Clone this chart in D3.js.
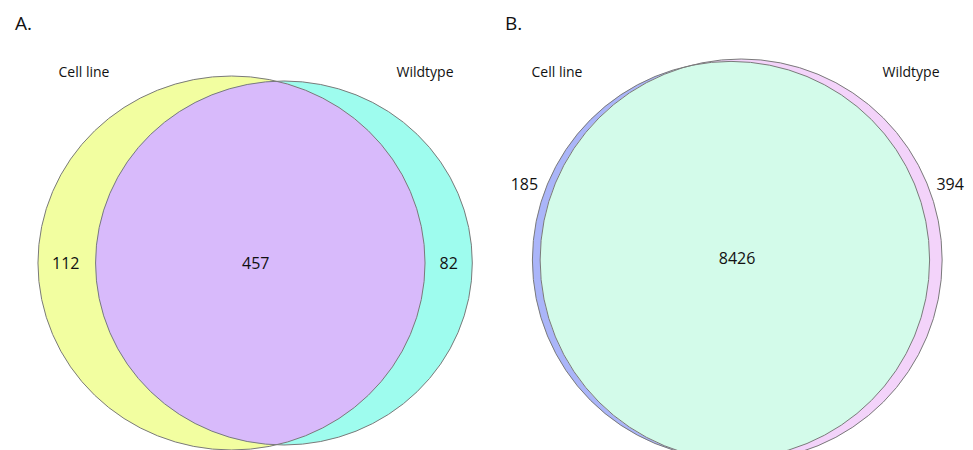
<!DOCTYPE html>
<html>
<head>
<meta charset="utf-8">
<script src="https://cdn.jsdelivr.net/npm/d3@7"></script>
<style>
	body { margin: 0; background: #fff; }
	svg text { font-family: "Open Sans", "Noto Sans", sans-serif; fill: #111; }
</style>
</head>
<body>
<svg id="venn"></svg>
<script>
const panelTitles = ["A.", "B."];
const setLabels = ["Cell line", "Wildtype"];
const onlyCellLine = [112, 185];
const shared = [457, 8426];
const onlyWildtype = [82, 394];

const leftColors = ["#f2fea0", "#aab5f9"];
const rightColors = ["#9efcee", "#f3d3fa"];
const bothColors = ["#d8bafb", "#d3fbea"];

const width = 973, height = 450;

// where each panel sits on the page
const layout = [
	{x0: 0, cx: 231.5, cy: 263, rMax: 187, aspect: 1.035, inside: true},
	{x0: 490, cx: 731, cy: 260, rMax: 201, aspect: 1.0, inside: false}
];

const svg = d3.select("#venn")
	.attr("width", width)
	.attr("height", height);

const defs = svg.append("defs");

function lensArea(r1, r2, d) {
	if (d >= r1 + r2) return 0;
	if (d <= Math.abs(r1 - r2)) return Math.PI * Math.min(r1, r2) ** 2;
	const a1 = Math.acos((d * d + r1 * r1 - r2 * r2) / (2 * d * r1));
	const a2 = Math.acos((d * d + r2 * r2 - r1 * r1) / (2 * d * r2));
	const k = Math.sqrt((-d + r1 + r2) * (d + r1 - r2) * (d - r1 + r2) * (d + r1 + r2));
	return r1 * r1 * a1 + r2 * r2 * a2 - 0.5 * k;
}

// find center distance so the lens has the wanted area
function solveDistance(r1, r2, target) {
	let lo = Math.abs(r1 - r2), hi = r1 + r2;
	for (let i = 0; i < 100; i++) {
		const mid = (lo + hi) / 2;
		if (lensArea(r1, r2, mid) > target) lo = mid; else hi = mid;
	}
	return (lo + hi) / 2;
}

panelTitles.forEach((title, i) => {
	const L = layout[i];
	const totalLeft = onlyCellLine[i] + shared[i];
	const totalRight = onlyWildtype[i] + shared[i];

	const r = d3.scaleSqrt()
		.domain([0, Math.max(totalLeft, totalRight)])
		.range([0, L.rMax]);

	const r1 = r(totalLeft), r2 = r(totalRight);
	const pxPerUnit = Math.PI * r1 * r1 / totalLeft;
	const d = solveDistance(r1, r2, shared[i] * pxPerUnit) * L.aspect;

	const c1 = {x: L.cx, y: L.cy, rx: r1 * L.aspect, ry: r1};
	const c2 = {x: L.cx + d, y: L.cy, rx: r2 * L.aspect, ry: r2};

	const g = svg.append("g");

	defs.append("clipPath")
		.attr("id", "clip" + i)
		.append("ellipse")
		.attr("cx", c1.x).attr("cy", c1.y)
		.attr("rx", c1.rx).attr("ry", c1.ry);

	g.append("ellipse")
		.attr("cx", c1.x).attr("cy", c1.y)
		.attr("rx", c1.rx).attr("ry", c1.ry)
		.attr("fill", leftColors[i]);

	g.append("ellipse")
		.attr("cx", c2.x).attr("cy", c2.y)
		.attr("rx", c2.rx).attr("ry", c2.ry)
		.attr("fill", rightColors[i]);

	g.append("ellipse")
		.attr("cx", c2.x).attr("cy", c2.y)
		.attr("rx", c2.rx).attr("ry", c2.ry)
		.attr("clip-path", `url(#clip${i})`)
		.attr("fill", bothColors[i]);

	g.selectAll("ellipse.outline")
		.data([c1, c2])
		.enter().append("ellipse")
		.attr("class", "outline")
		.attr("cx", c => c.x).attr("cy", c => c.y)
		.attr("rx", c => c.rx).attr("ry", c => c.ry)
		.attr("fill", "none")
		.attr("stroke", "#7a7a7a")
		.attr("stroke-width", 1);

	// panel letter
	g.append("text")
		.attr("x", L.x0 + 15)
		.attr("y", 30)
		.style("font-size", "19px")
		.text(title);

	// set names
	g.append("text")
		.attr("x", i === 0 ? 84 : 557)
		.attr("y", 77)
		.attr("text-anchor", "middle")
		.style("font-size", "14px")
		.text(setLabels[0]);

	g.append("text")
		.attr("x", i === 0 ? 425 : 911)
		.attr("y", 77)
		.attr("text-anchor", "middle")
		.style("font-size", "14px")
		.text(setLabels[1]);

	// counts
	let leftPos, rightPos, midPos;
	if (L.inside) {
		leftPos = {x: (c1.x - c1.rx + c2.x - c2.rx) / 2 - 1, y: L.cy};
		rightPos = {x: (c1.x + c1.rx + c2.x + c2.rx) / 2, y: L.cy};
		midPos = {x: (c1.x + c2.x) / 2 - 2, y: L.cy};
	} else {
		leftPos = {x: c1.x - c1.rx - 8, y: L.cy - 76};
		rightPos = {x: c2.x + c2.rx + 8, y: L.cy - 76};
		midPos = {x: (c1.x + c2.x) / 2 + 1, y: L.cy - 2};
	}

	g.append("text")
		.attr("x", leftPos.x).attr("y", leftPos.y)
		.attr("dy", "0.35em")
		.attr("text-anchor", "middle")
		.style("font-size", "16px")
		.text(onlyCellLine[i]);

	g.append("text")
		.attr("x", midPos.x).attr("y", midPos.y)
		.attr("dy", "0.35em")
		.attr("text-anchor", "middle")
		.style("font-size", "16px")
		.text(shared[i]);

	g.append("text")
		.attr("x", rightPos.x).attr("y", rightPos.y)
		.attr("dy", "0.35em")
		.attr("text-anchor", "middle")
		.style("font-size", "16px")
		.text(onlyWildtype[i]);
});
</script>
</body>
</html>
